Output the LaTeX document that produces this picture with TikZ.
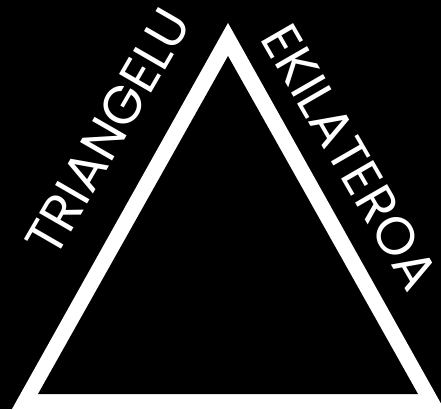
\documentclass[tikz,border=0pt]{standalone}
\usepackage{fontspec}
\setmainfont{Poppins}
\begin{document}
\begin{tikzpicture}[x=1pt,y=-1pt,
  lbl/.style={text=white,inner sep=0pt,font=\fontsize{53}{53}\selectfont}]
\useasboundingbox (0,0) rectangle (441,409);
\fill[black] (0,0) rectangle (441,409);
\clip (0,0) rectangle (441,409);
\fill[white] (228,23) -- (12,409) -- (444,409) -- cycle;
\fill[black] (228,56) -- (38,394) -- (418,394) -- cycle;
\node[lbl,rotate=60] (left) at (108,132) {TRIANGELU};
\node[lbl,rotate=-60] (right) at (350,157) {EKILATEROA};
\end{tikzpicture}
\end{document}
